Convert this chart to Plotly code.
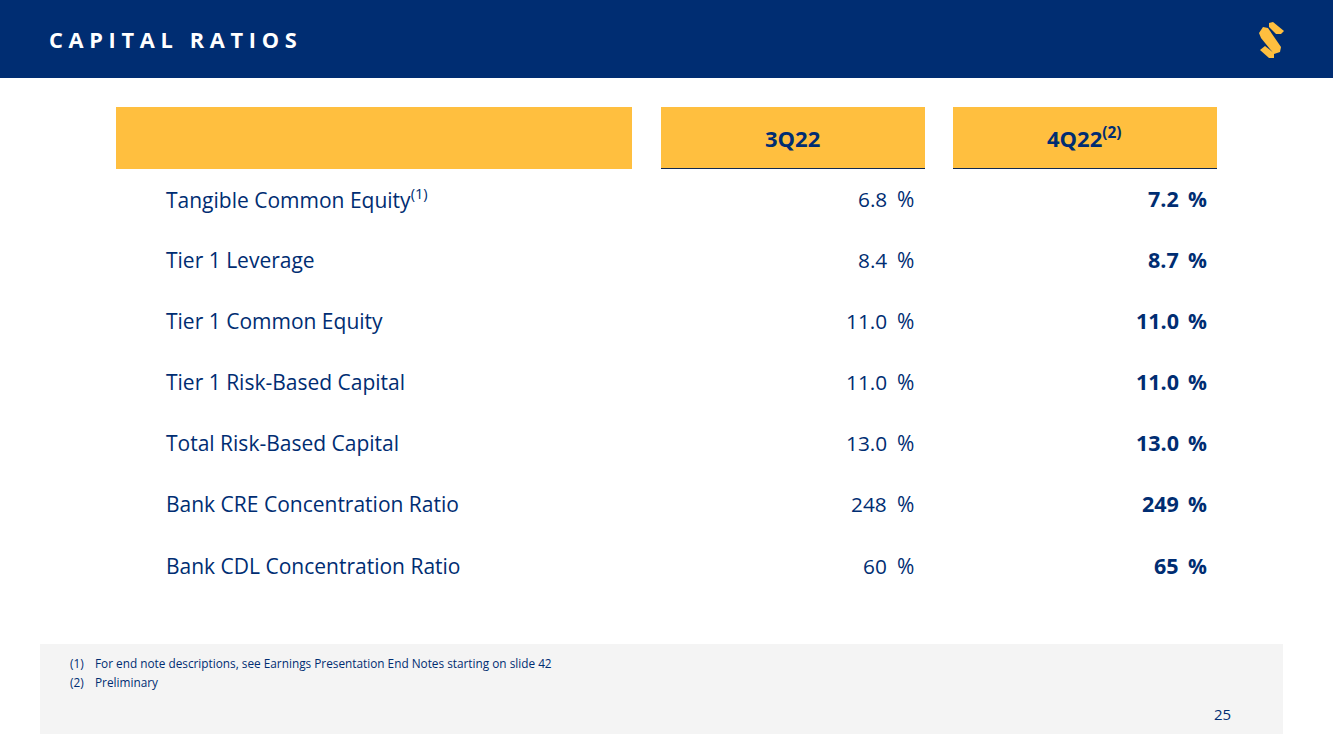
import plotly.graph_objects as go

title = "C A P I T A L   R A T I O S"
metrics = ["Tangible Common Equity<sup>(1)</sup>", "Tier 1 Leverage", "Tier 1 Common Equity",
           "Tier 1 Risk-Based Capital", "Total Risk-Based Capital",
           "Bank CRE Concentration Ratio", "Bank CDL Concentration Ratio"]
q3_values = ["6.8", "8.4", "11.0", "11.0", "13.0", "248", "60"]
q4_values = ["7.2", "8.7", "11.0", "11.0", "13.0", "249", "65"]
columns = ["3Q22", "4Q22<sup>(2)</sup>"]
notes = ["(1)", "(2)"]
note_texts = ["For end note descriptions, see Earnings Presentation End Notes starting on slide 42", "Preliminary"]
page_number = "25"

NAVY = "#002D72"
GOLD = "#FFBF3F"
FONT = "Open Sans"
row_y = [199, 260, 321, 382, 443, 504, 566]

fig = go.Figure()
shapes = []
def rect(x0, y0, x1, y1, color):
    shapes.append(dict(type="rect", xref="x", yref="y", x0=x0, x1=x1, y0=y0, y1=y1,
                       fillcolor=color, line_width=0, layer="below"))

rect(0, 0, 1333, 78, NAVY)
rect(116, 107, 632, 169, GOLD)
rect(661, 107, 925, 168, GOLD)
rect(953, 107, 1217, 168, GOLD)
rect(40, 644, 1283, 734, "#F4F4F4")
for x0, x1 in [(661, 925), (953, 1217)]:
    shapes.append(dict(type="line", xref="x", yref="y", x0=x0, x1=x1, y0=168.5, y1=168.5,
                       line=dict(color="#12294F", width=1.2)))
# logo
for p in ["M1269,23 L1273,22 L1284,31 L1281,34 L1276,34 L1269,27 Z",
          "M1259,33 L1263,27 L1268,28 L1281,47 L1280,52 L1274,54 L1261,38 Z",
          "M1260,50 L1265,46 L1274,53 L1274,58 L1269,58 Z"]:
    shapes.append(dict(type="path", xref="x", yref="y", path=p, fillcolor=GOLD, line_width=0))

ann = []
def text(x, y, s, size, color=NAVY, anchor="left", bold=False):
    ann.append(dict(x=x, y=y, xref="x", yref="y", text=f"<b>{s}</b>" if bold else s, showarrow=False,
                    xanchor=anchor, yanchor="middle", font=dict(family=FONT, size=size, color=color),
                    align=anchor))

text(47, 39.5, title, 21.8, "white", bold=True)
text(792, 137.5, columns[0], 22, anchor="center", bold=True)
text(1084, 137.5, columns[1], 22, anchor="center", bold=True)
for y, m, a, b in zip(row_y, metrics, q3_values, q4_values):
    text(164, y - 0.5, m, 21)
    text(889, y, a, 20.8, anchor="right")
    text(915.5, y, "%", 21, anchor="right")
    text(1181, y - 0.5, b, 21.5, anchor="right", bold=True)
    text(1208.5, y - 0.5, "%", 21, anchor="right", bold=True)
for y, n, t in zip([663, 681.5], notes, note_texts):
    text(68, y, n, 11.8)
    text(92.5, y, t, 11.8)
text(1232.5, 714, page_number, 15, anchor="right")

# invisible trace anchoring the axes
fig.add_trace(go.Scatter(x=[0, 1333], y=[0, 749], mode="markers", marker=dict(opacity=0),
                         hoverinfo="skip", showlegend=False))
fig.update_layout(width=1333, height=749, margin=dict(l=0, r=0, t=0, b=0),
                  paper_bgcolor="white", plot_bgcolor="white", shapes=shapes, annotations=ann,
                  xaxis=dict(range=[0, 1333], visible=False, fixedrange=True),
                  yaxis=dict(range=[749, 0], visible=False, fixedrange=True),
                  showlegend=False)
fig.write_html("out.html", config={"displayModeBar": False},
               post_script="document.body.style.margin='0';document.documentElement.style.overflow='hidden';")
